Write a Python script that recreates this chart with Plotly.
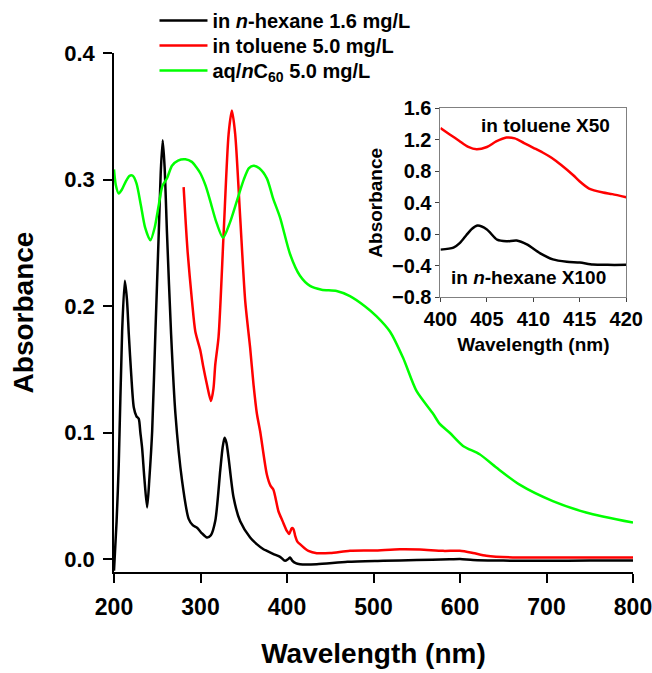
import plotly.graph_objects as go

# ---- main spectra ----
hex_wl = [200, 203, 205.5, 209.4, 212.5, 215, 217.1, 220, 222.9, 226, 228.6, 230.5, 232.5, 235, 238.3,
          241, 244.1, 247.9, 251.7, 254, 256.3, 258.5, 261.3, 266, 271, 278.7, 286.3, 291, 296, 301,
          307.5, 312, 317.1, 322.8, 325.5, 327.8, 330, 332.5, 338.2, 345.9, 357.4, 365, 372.8, 376.7,
          385, 392, 397.8, 401, 403.6, 406, 410, 415, 434.4, 470, 511.2, 550, 588, 600, 615, 650, 700,
          750, 800]
hex_abs = [-0.009, 0.03, 0.075, 0.18, 0.220, 0.205, 0.178, 0.145, 0.12, 0.113, 0.111, 0.100, 0.088,
           0.065, 0.041, 0.065, 0.101, 0.18, 0.257, 0.305, 0.331, 0.31, 0.257, 0.178, 0.115, 0.062,
           0.032, 0.027, 0.025, 0.021, 0.0172, 0.019, 0.0304, 0.07, 0.088, 0.096, 0.092, 0.080, 0.049,
           0.030, 0.0172, 0.012, 0.008, 0.0067, 0.004, 0.002, -0.0012, 0.0, 0.0015, -0.001, -0.003,
           -0.0038, -0.0038, -0.002, -0.0012, -0.0005, 0.0, 0.0003, -0.0005, -0.001, -0.0012, -0.001,
           -0.001]

tol_wl = [280.5, 283, 285.1, 290.2, 294, 299.8, 303, 307.5, 312.1, 315, 317.1, 320.9, 326.7, 332.5,
          336.3, 340.1, 345.9, 351.7, 357.4, 361.3, 365.2, 369, 376.7, 381, 384.3, 390.1, 395, 399.8,
          402.5, 405.5, 407.4, 409.3, 412, 415, 420, 424.7, 434.4, 450, 472.8, 500, 530.5, 553.5,
          580.4, 599.7, 615, 630.4, 661, 700, 800]
tol_abs = [0.294, 0.265, 0.243, 0.204, 0.180, 0.165, 0.153, 0.138, 0.125, 0.135, 0.154, 0.176, 0.257,
           0.336, 0.3545, 0.336, 0.270, 0.204, 0.167, 0.138, 0.115, 0.101, 0.067, 0.058, 0.055, 0.038,
           0.030, 0.0225, 0.020, 0.0246, 0.024, 0.019, 0.014, 0.012, 0.009, 0.0067, 0.0049, 0.005,
           0.0067, 0.007, 0.008, 0.0078, 0.0067, 0.0067, 0.005, 0.0028, 0.0015, 0.0015, 0.0015]

aq_wl = [200, 202, 205.5, 209, 214, 218, 221.7, 226, 231, 236, 242.1, 247, 252, 256, 261.3, 267, 274,
         282.5, 290, 295, 299.8, 306, 311.3, 318, 326, 334, 342, 350, 356, 361.3, 368, 376.7, 384, 392,
         403.6, 415, 426.6, 440, 457.4, 472.8, 490, 503.6, 519, 534.3, 549.7, 568.9, 576.6, 588.1,
         603.5, 622.7, 642, 668.9, 707.3, 745.8, 800]
aq_abs = [0.308, 0.296, 0.289, 0.292, 0.299, 0.303, 0.303, 0.297, 0.280, 0.262, 0.252, 0.262, 0.281,
          0.295, 0.301, 0.311, 0.315, 0.316, 0.314, 0.310, 0.305, 0.295, 0.283, 0.267, 0.254, 0.266,
          0.283, 0.300, 0.309, 0.311, 0.309, 0.301, 0.285, 0.270, 0.241, 0.224, 0.216, 0.213, 0.212,
          0.208, 0.200, 0.192, 0.180, 0.159, 0.133, 0.115, 0.107, 0.100, 0.0896, 0.083, 0.0725, 0.059,
          0.046, 0.037, 0.029]

# ---- inset spectra (400-420 nm, scaled) ----
ins_tol_wl = [400, 401, 402, 403, 403.9, 405, 406, 407.1, 408, 409, 410, 411, 412, 413, 414.3, 415,
              416, 417.5, 418.5, 420]
ins_tol_abs = [1.35, 1.27, 1.19, 1.11, 1.08, 1.11, 1.18, 1.23, 1.22, 1.16, 1.10, 1.04, 0.97, 0.88,
               0.75, 0.67, 0.58, 0.53, 0.51, 0.47]
ins_hex_wl = [400, 401.4, 402.1, 402.8, 403.4, 404, 405, 406.1, 407.1, 408.2, 409.3, 410.7, 412.1,
              413.6, 415, 416.4, 418, 420]
ins_hex_abs = [-0.196, -0.17, -0.11, -0.01, 0.07, 0.11, 0.06, -0.07, -0.09, -0.08, -0.13, -0.24,
               -0.32, -0.35, -0.36, -0.385, -0.39, -0.39]

main_ticks_y = [0.0, 0.1, 0.2, 0.3, 0.4]

FONT = "Liberation Sans, Arial, sans-serif"
LINE = dict(width=2.5, shape="spline", smoothing=0.7)

fig = go.Figure()
fig.add_trace(go.Scatter(x=hex_wl, y=hex_abs, mode="lines", line=dict(color="black", **LINE),
                         name="in <i>n</i>-hexane 1.6 mg/L", legend="legend"))
fig.add_trace(go.Scatter(x=tol_wl, y=tol_abs, mode="lines", line=dict(color="#ff0000", **LINE),
                         name="in toluene 5.0 mg/L", legend="legend2"))
fig.add_trace(go.Scatter(x=aq_wl, y=aq_abs, mode="lines", line=dict(color="#00ff00", **LINE),
                         name="aq/<i>n</i>C<sub>60</sub> 5.0 mg/L", legend="legend3"))
fig.add_trace(go.Scatter(x=ins_tol_wl, y=ins_tol_abs, mode="lines", line=dict(color="#ff0000", **LINE),
                         xaxis="x2", yaxis="y2", showlegend=False))
fig.add_trace(go.Scatter(x=ins_hex_wl, y=ins_hex_abs, mode="lines", line=dict(color="black", **LINE),
                         xaxis="x2", yaxis="y2", showlegend=False))


def leg(ypos):
    return dict(x=0.078, y=ypos, xanchor="left", yanchor="middle", bgcolor="rgba(0,0,0,0)",
                font=dict(size=20, family=FONT, weight="bold"), itemwidth=48)


fig.update_layout(
    width=652, height=673,
    margin=dict(l=113.5, r=18.5, t=52.5, b=101.3, autoexpand=False),
    paper_bgcolor="white", plot_bgcolor="white",
    font=dict(family=FONT, color="black", weight="bold"),
    xaxis=dict(domain=[0, 1], range=[200, 800], dtick=100, showgrid=False, zeroline=False,
               showline=True, linecolor="black", linewidth=1.5, ticks="outside", ticklen=9,
               tickwidth=1.5, tickcolor="black", tickfont=dict(size=23, family=FONT, weight="bold"),
               ticklabelstandoff=5, ticklabeloverflow="allow",
               title=dict(text="Wavelength (nm)", font=dict(size=28, family=FONT, weight="bold"),
                          standoff=24)),
    yaxis=dict(domain=[0, 1], range=[-0.01, 0.4], tickvals=main_ticks_y, tickformat=".1f",
               showgrid=False, zeroline=False, showline=True, linecolor="black", linewidth=1.5,
               ticks="outside", ticklen=9, tickwidth=1.5, tickcolor="black",
               tickfont=dict(size=22, family=FONT, weight="bold"), ticklabelstandoff=4,
               title=dict(text="Absorbance", font=dict(size=28, family=FONT, weight="bold"),
                          standoff=22)),
    xaxis2=dict(domain=[0.629, 0.987], anchor="y2", range=[400, 420], dtick=5, showgrid=False,
                zeroline=False, showline=True, mirror=True, linecolor="#808080", linewidth=1,
                ticks="outside", ticklen=4, tickcolor="#404040",
                tickfont=dict(size=20, family=FONT, weight="bold"),
                title=dict(text="Wavelength (nm)", font=dict(size=19, family=FONT, weight="bold"),
                           standoff=8)),
    yaxis2=dict(domain=[0.5297, 0.8931], anchor="x2", range=[-0.8, 1.6], dtick=0.4, tick0=0,
                tickformat=".1f", showgrid=False, zeroline=False, showline=True, mirror=True,
                linecolor="#808080", linewidth=1, ticks="outside", ticklen=4, tickcolor="#404040",
                tickfont=dict(size=20, family=FONT, weight="bold"),
                title=dict(text="Absorbance", font=dict(size=19, family=FONT, weight="bold"),
                           standoff=4)),
    legend=leg(1.0626),
    legend2=leg(1.0145),
    legend3=leg(0.9663),
    annotations=[
        dict(text="in toluene X50", xref="x2", yref="y2", x=411.3, y=1.387, showarrow=False,
             font=dict(size=19, family=FONT, weight="bold"), xanchor="center", yanchor="middle"),
        dict(text="in <i>n</i>-hexane X100", xref="x2", yref="y2", x=409.5, y=-0.545,
             showarrow=False, font=dict(size=19, family=FONT, weight="bold"),
             xanchor="center", yanchor="middle"),
    ],
)

fig.write_html("out.html")
